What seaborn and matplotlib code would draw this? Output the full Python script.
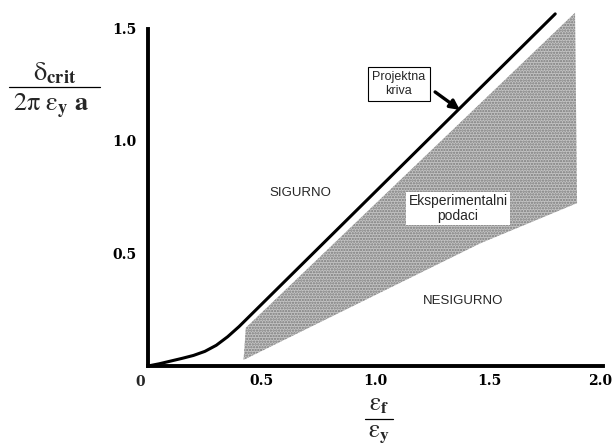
import matplotlib
matplotlib.use("Agg")
import matplotlib.pyplot as plt
import matplotlib.transforms as mtransforms
import seaborn as sns
from matplotlib.lines import Line2D

# ---- data ----
curve_x = [0.0, 0.05, 0.10, 0.15, 0.20, 0.25, 0.30, 0.35, 0.40, 0.45, 0.50, 1.00, 1.50, 1.79]
curve_y = [0.0, 0.010, 0.022, 0.034, 0.047, 0.065, 0.092, 0.130, 0.175, 0.225, 0.275, 0.775, 1.275, 1.565]

shade_x = [0.42, 0.43, 1.877, 1.886, 1.46, 0.42]
shade_y = [0.027, 0.17, 1.57, 0.724, 0.545, 0.027]

xticks = [0.5, 1.0, 1.5, 2.0]
xticklabels = ["0.5", "1.0", "1.5", "2.0"]
yticks = [0.5, 1.0, 1.5]
yticklabels = ["0.5", "1.0", "1.5"]

# ---- style ----
sns.set_style("white")
plt.rcParams["mathtext.fontset"] = "stix"
plt.rcParams["hatch.linewidth"] = 1.1

fig = plt.figure(figsize=(6.13, 4.45), dpi=100)
ax = fig.add_axes([148 / 613, 79 / 445, 455 / 613, 360 / 445])

ax.fill(shade_x, shade_y, facecolor="#c4c4c4", edgecolor="#7a7a7a",
        hatch="......", linewidth=0, zorder=1)
sns.lineplot(x=curve_x, y=curve_y, ax=ax, color="black", linewidth=2.2,
             sort=False, estimator=None, zorder=3)

ax.set_xlim(0, 2.0)
ax.set_ylim(0, 1.6)

for s in ["top", "right"]:
    ax.spines[s].set_visible(False)
for s in ["left", "bottom"]:
    ax.spines[s].set_linewidth(2.8)
    ax.spines[s].set_color("black")
ax.spines["left"].set_bounds(0, 1.5)

tick_font = dict(family="DejaVu Serif", weight="bold", size=10)
ax.set_xticks(xticks)
ax.set_xticklabels(xticklabels, **tick_font)
ax.set_yticks(yticks)
ax.set_yticklabels(yticklabels, **tick_font)
ax.tick_params(axis="x", direction="in", length=14, width=1.6, pad=6, colors="black")
ax.tick_params(axis="y", direction="in", length=16, width=1.3, pad=8, colors="black")
# nudge the last x label slightly left so it stays inside the picture
last = ax.get_xticklabels()[-1]
last.set_transform(last.get_transform() +
                   mtransforms.ScaledTranslation(-3 / 100, 0, fig.dpi_scale_trans))
ax.text(-0.035, -0.025, "0", transform=ax.get_xaxis_transform(),
        ha="center", va="top", **tick_font)

ax.set_xlabel("")
ax.set_ylabel("")

# ---- annotations ----
sans = "Liberation Sans"
ax.text(0.67, 0.77, "SIGURNO", ha="center", va="center", family=sans, fontsize=9.5)
ax.text(1.385, 0.29, "NESIGURNO", ha="center", va="center", family=sans, fontsize=9.5)
ax.text(1.363, 0.70, "Eksperimentalni\npodaci", ha="center", va="center",
        family=sans, fontsize=10, linespacing=1.1, zorder=4,
        bbox=dict(boxstyle="square,pad=0.15", fc="white", ec="none"))
ax.text(1.103, 1.253, "Projektna\nkriva", ha="center", va="center",
        family=sans, fontsize=9, linespacing=1.2, zorder=4,
        bbox=dict(boxstyle="square,pad=0.35", fc="white", ec="black", lw=0.8))
ax.annotate("", xy=(1.371, 1.138), xytext=(1.262, 1.218),
            arrowprops=dict(arrowstyle="-|>", color="black", lw=2.4,
                            mutation_scale=14, shrinkA=0, shrinkB=0), zorder=5)

# ---- axis label fractions ----
W, H = 613, 445
def fx(px):
    return px / W
def fy(py):
    return 1 - py / H

fig.text(fx(55), fy(73), r"$\mathrm{\delta}_{\mathbf{crit}}$", ha="center", va="center", fontsize=19)
fig.add_artist(Line2D([fx(9), fx(100)], [fy(87), fy(87)], color="black", lw=0.9))
fig.text(fx(51), fy(106), r"$\mathrm{2\pi}\ \mathrm{\varepsilon}_{\mathbf{y}}\ \mathbf{a}$",
         ha="center", va="center", fontsize=19)

fig.text(fx(379), fy(404), r"$\mathrm{\varepsilon}_{\mathbf{f}}$", ha="center", va="center", fontsize=18)
fig.add_artist(Line2D([fx(365), fx(393)], [fy(419), fy(419)], color="black", lw=0.9))
fig.text(fx(379), fy(433), r"$\mathrm{\varepsilon}_{\mathbf{y}}$", ha="center", va="center", fontsize=18)

fig.savefig("out.png", dpi=100, facecolor="white")
